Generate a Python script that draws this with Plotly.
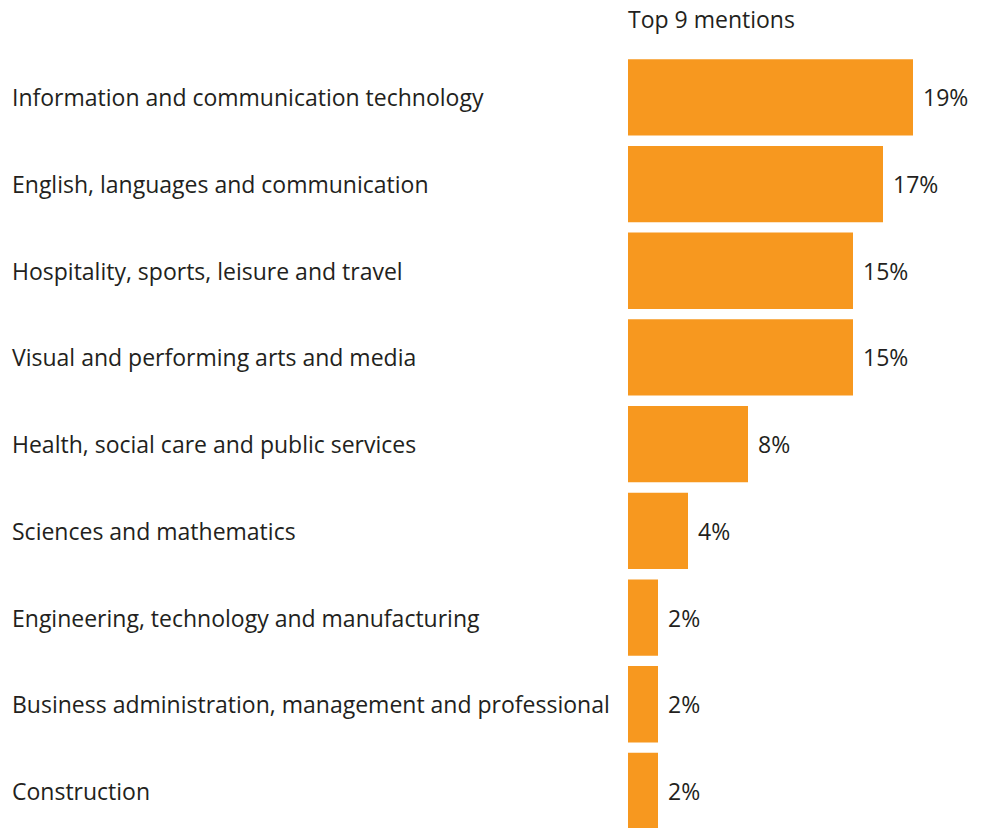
import plotly.graph_objects as go

categories = [
    "Information and communication technology",
    "English, languages and communication",
    "Hospitality, sports, leisure and travel",
    "Visual and performing arts and media",
    "Health, social care and public services",
    "Sciences and mathematics",
    "Engineering, technology and manufacturing",
    "Business administration, management and professional",
    "Construction",
]
values = [19, 17, 15, 15, 8, 4, 2, 2, 2]
value_labels = [f"{v}%" for v in values]
title_text = "Top 9 mentions"

BAR_COLOR = "#F7981F"
TEXT_COLOR = "#231F20"
FONT = "Open Sans"
FONT_SIZE = 23

W, H = 987, 828
LEFT, TOP = 628, 54
plot_w = W - LEFT
px_per_pct = 15.0
pitch = 86.7
plot_h = H - TOP

fig = go.Figure(
    go.Bar(
        x=values,
        y=categories,
        orientation="h",
        marker=dict(color=BAR_COLOR, line=dict(width=0)),
        width=0.88,
        hoverinfo="skip",
    )
)

annotations = []
for cat, v, lab in zip(categories, values, value_labels):
    # category label, left-aligned at the page edge
    annotations.append(dict(
        x=(10 - LEFT) / plot_w, xref="paper", y=cat, yref="y",
        text=cat, showarrow=False, xanchor="left", yanchor="middle",
        font=dict(family=FONT, size=FONT_SIZE, color=TEXT_COLOR),
    ))
    # value label just past the bar end
    annotations.append(dict(
        x=v, xref="x", y=cat, yref="y", text=lab, showarrow=False,
        xanchor="left", yanchor="middle", xshift=8,
        font=dict(family=FONT, size=FONT_SIZE, color=TEXT_COLOR),
    ))

# chart heading above the bars
annotations.append(dict(
    x=-2 / plot_w, xref="paper", y=1 + (TOP - 19) / plot_h, yref="paper",
    text=title_text, showarrow=False, xanchor="left", yanchor="middle",
    font=dict(family=FONT, size=FONT_SIZE, color=TEXT_COLOR),
))

fig.update_layout(
    width=W, height=H,
    margin=dict(l=LEFT, r=0, t=TOP, b=0, pad=0),
    paper_bgcolor="white", plot_bgcolor="white",
    showlegend=False,
    xaxis=dict(range=[0, plot_w / px_per_pct], visible=False, fixedrange=True),
    yaxis=dict(
        type="category",
        categoryorder="array", categoryarray=categories,
        range=[-0.5 + plot_h / pitch, -0.5],
        visible=False, fixedrange=True,
    ),
    annotations=annotations,
)

fig.write_html("out.html", config={"displayModeBar": False})
